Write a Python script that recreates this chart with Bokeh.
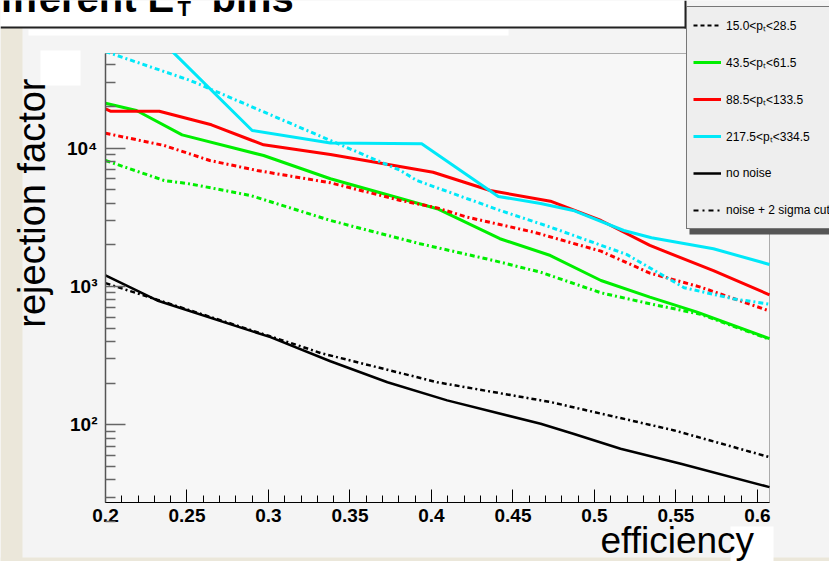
import numpy as np
from bokeh.plotting import figure
from bokeh.models import Range1d, FixedTicker, Label, Legend, LegendItem, BoxAnnotation
from bokeh.embed import file_html
from bokeh.resources import INLINE

# ---------------- data ----------------
# 43.5 < pT < 61.5 (green)
eff_green_solid = [0.2, 0.219, 0.247, 0.297, 0.338, 0.4035, 0.442, 0.473, 0.504, 0.534, 0.563, 0.6074]
rej_green_solid = [21150, 18740, 12490, 8850, 6010, 3650, 2215, 1674, 1105, 838, 652, 419]
eff_green_noise = [0.2, 0.236, 0.252, 0.289, 0.338, 0.393, 0.438, 0.467, 0.504, 0.534, 0.565, 0.6074]
rej_green_noise = [8150, 5840, 5515, 4550, 3000, 2037, 1542, 1268, 900, 750, 630, 415]

# 88.5 < pT < 133.5 (red)
eff_red_solid = [0.2, 0.203, 0.233, 0.265, 0.290, 0.297, 0.338, 0.401, 0.436, 0.473, 0.504, 0.534, 0.573, 0.6074]
rej_red_solid = [19270, 18520, 18520, 14760, 11370, 10580, 9000, 6700, 4940, 4140, 3000, 1980, 1300, 870]
eff_red_noise = [0.2, 0.236, 0.264, 0.293, 0.338, 0.381, 0.4035, 0.422, 0.463, 0.504, 0.534, 0.565, 0.6074]
rej_red_noise = [12830, 10460, 8150, 6900, 5620, 4190, 3700, 3170, 2466, 1800, 1250, 990, 665]

# 217.5 < pT < 334.5 (cyan)
eff_cyan_solid = [0.2, 0.233, 0.290, 0.338, 0.394, 0.441, 0.467, 0.487, 0.518, 0.535, 0.573, 0.6074]
rej_cyan_solid = [80000, 62000, 13430, 10900, 10760, 4480, 3980, 3545, 2540, 2250, 1874, 1443]
eff_cyan_noise = [0.2, 0.252, 0.338, 0.381, 0.391, 0.442, 0.473, 0.520, 0.555, 0.585, 0.6074]
rej_cyan_noise = [50000, 30900, 11370, 6900, 5840, 3550, 2686, 1700, 980, 815, 745]

# 15.0 < pT < 28.5 (black)
eff_black_solid = [0.2, 0.2317, 0.3012, 0.338, 0.373, 0.4096, 0.467, 0.487, 0.516, 0.553, 0.6074]
rej_black_solid = [1201, 792, 430, 288, 203, 150, 101.6, 86.1, 67, 52.2, 35.4]
eff_black_noise = [0.2, 0.209, 0.232, 0.300, 0.3196, 0.332, 0.4035, 0.473, 0.549, 0.6074]
rej_black_noise = [1057, 977, 800, 440, 370, 330, 203, 146, 91, 58.3]

x_ticks = [0.2, 0.25, 0.3, 0.35, 0.4, 0.45, 0.5, 0.55, 0.6]
x_tick_labels = ["0.2", "0.25", "0.3", "0.35", "0.4", "0.45", "0.5", "0.55", "0.6"]
y_ticks = [100, 1000, 10000]
y_tick_labels = ["10\u00b2", "10\u00b3", "10\u2074"]
legend_labels = ["15.0<p\u209c<28.5", "43.5<p\u209c<61.5", "88.5<p\u209c<133.5",
                 "217.5<p\u209c<334.5", "no noise", "noise + 2 sigma cut"]

# axis limits of the drawn plot area
X0, X1 = 0.2, 0.6074
Y0, Y1 = 27.4, 48400

# ---------------- layout ----------------
W, H = 829, 561
FL, FR, FT, FB = 105, 769, 53, 502   # plot-area edges in canvas pixels
FONT = "Liberation Sans"

# the Bokeh frame covers the whole canvas; the axes are pinned at the plot-area edges
kx = (X1 - X0) / (FR - FL)
xr = Range1d(X0 - FL * kx, X1 + (W - FR) * kx)
ly0, ly1 = np.log10(Y0), np.log10(Y1)
ky = (ly1 - ly0) / (FB - FT)
yr = Range1d(10 ** (ly0 - (H - FB) * ky), 10 ** (ly1 + FT * ky))

def sx(cx):
    return cx

def sy(cy):
    return H - cy

p = figure(width=W, height=H, output_backend="svg", toolbar_location=None, title=None,
           x_range=xr, y_range=yr, y_axis_type="log",
           min_border=0, min_border_left=0, min_border_right=0, min_border_top=0, min_border_bottom=0,
           background_fill_color="#f4f4f4", border_fill_color="#f4f4f4")
p.grid.visible = False
p.outline_line_color = None

# plot area background + frame
p.add_layout(BoxAnnotation(left=X0, right=X1, bottom=Y0, top=Y1, fill_color="#f7f7f7", fill_alpha=1,
                           line_color="black", line_width=1, level="underlay"))

# axes
p.xaxis.fixed_location = Y0
p.yaxis.fixed_location = X0
p.xaxis.bounds = (X0, X1)
p.yaxis.bounds = (Y0, Y1)
p.xaxis.ticker = FixedTicker(ticks=x_ticks, minor_ticks=[round(0.2 + 0.01 * i, 2) for i in range(41)])
p.xaxis.major_label_overrides = {t: l for t, l in zip(x_ticks, x_tick_labels)}
p.yaxis.ticker = FixedTicker(ticks=y_ticks,
                             minor_ticks=[m * 10 ** e for e in (1, 2, 3, 4) for m in range(2, 10)])
p.yaxis.major_label_overrides = {t: l for t, l in zip(y_ticks, y_tick_labels)}
for ax in (p.xaxis, p.yaxis):
    ax.major_label_text_font = FONT
    ax.major_label_text_font_style = "bold"
    ax.major_label_text_font_size = "19px"
    ax.major_label_text_color = "black"
    ax.major_tick_out = 0
    ax.minor_tick_out = 0
p.xaxis.major_tick_in = 13
p.xaxis.minor_tick_in = 7
p.xaxis.major_label_standoff = 6
p.xaxis.axis_line_color = "black"
p.xaxis.major_tick_line_color = "black"
p.xaxis.minor_tick_line_color = "black"
p.yaxis.major_tick_in = 20
p.yaxis.minor_tick_in = 10
p.yaxis.major_label_standoff = 8
p.yaxis.axis_line_color = "#555555"
p.yaxis.axis_line_width = 1.5
p.yaxis.major_tick_line_color = "#666666"
p.yaxis.minor_tick_line_color = "#666666"
p.yaxis.major_tick_line_width = 1.5
p.yaxis.minor_tick_line_width = 1.5

# curves
GREEN, RED, CYAN = "#00ee00", "#ff0000", "#00e8f8"
DD = "5 3 2 3"
g_s = p.line(eff_green_solid, rej_green_solid, line_color=GREEN, line_width=3)
p.line(eff_green_noise, rej_green_noise, line_color=GREEN, line_width=3, line_dash=DD)
r_s = p.line(eff_red_solid, rej_red_solid, line_color=RED, line_width=3)
p.line(eff_red_noise, rej_red_noise, line_color=RED, line_width=3, line_dash=DD)
c_s = p.line(eff_cyan_solid, rej_cyan_solid, line_color=CYAN, line_width=3)
p.line(eff_cyan_noise, rej_cyan_noise, line_color=CYAN, line_width=3, line_dash=DD)
k_s = p.line(eff_black_solid, rej_black_solid, line_color="black", line_width=2.5)
k_n = p.line(eff_black_noise, rej_black_noise, line_color="black", line_width=2.5, line_dash=DD)
# legend-only style samples (a single point draws no visible line)
k_dash = p.line(eff_black_solid[:1], rej_black_solid[:1], line_color="black", line_width=2, line_dash="4 3")
k_dd_leg = p.line(eff_black_noise[:1], rej_black_noise[:1], line_color="black", line_width=2,
                  line_dash="5 4 2 4")

# decorations outside the plot area (canvas pixel boxes), drawn over the curves
def box(l, r, t, b, color):
    p.add_layout(BoxAnnotation(left=sx(l), right=sx(r), top=sy(t), bottom=sy(b),
                               left_units="screen", right_units="screen",
                               top_units="screen", bottom_units="screen",
                               fill_color=color, fill_alpha=1, line_alpha=0, level="annotation"))

box(0, W, 0, FT - 0.5, "#f4f4f4")      # hides curve parts above the plot area
box(0, 22, 27, H, "#ebe7da")
box(0, W, 557, H, "#ebe7da")
box(0, 686, 0, 26, "white")
box(0, 686, 26, 28, "#222222")
box(684, 686, 0, 28, "#222222")
box(28, 508, 29, 35, "white")
box(40, 80, 50, 85, "white")
box(730, 773, 526, H, "white")
box(689, W + 5, 11, 234, "#555555")   # legend shadow

LEG_TOP = 8
legend = Legend(items=[LegendItem(label=legend_labels[0], renderers=[k_dash]),
                       LegendItem(label=legend_labels[1], renderers=[g_s]),
                       LegendItem(label=legend_labels[2], renderers=[r_s]),
                       LegendItem(label=legend_labels[3], renderers=[c_s]),
                       LegendItem(label=legend_labels[4], renderers=[k_s]),
                       LegendItem(label=legend_labels[5], renderers=[k_dd_leg])],
                location=(sx(686), sy(LEG_TOP + 221)), orientation="vertical",
                glyph_width=28, glyph_height=24, label_height=24, spacing=13, padding=6,
                margin=0, label_standoff=5,
                label_text_font=FONT, label_text_font_size="12px", label_text_color="black",
                background_fill_color="#eeeeee", background_fill_alpha=1,
                border_line_color="black", border_line_width=1)
p.add_layout(legend)

# texts (cx, cy = wanted baseline start in canvas pixels; Bokeh places the
# alphabetic baseline about 0.4 em lower, so the anchor is raised by that much)
def lab(cx, cy, text, size, style="normal", angle=0, align="left"):
    shift = 0.4 * size
    if angle:
        cx -= shift
    else:
        cy -= shift
    p.add_layout(Label(x=sx(cx), y=sy(cy), x_units="screen", y_units="screen", text=text,
                       text_font=FONT, text_font_size=f"{size}px", text_font_style=style,
                       text_color="black", angle=angle, text_align=align,
                       text_baseline="alphabetic"))

lab(-24, 13, "different E", 40, "bold")
lab(177, 17, "T", 22, "bold")
lab(211, 13, "bins", 40, "bold")
lab(47, 78, "rejection factor", 38, angle=np.pi / 2, align="right")
lab(600, 555, "efficiency", 37)

open("out.html", "w").write(file_html(p, INLINE))
